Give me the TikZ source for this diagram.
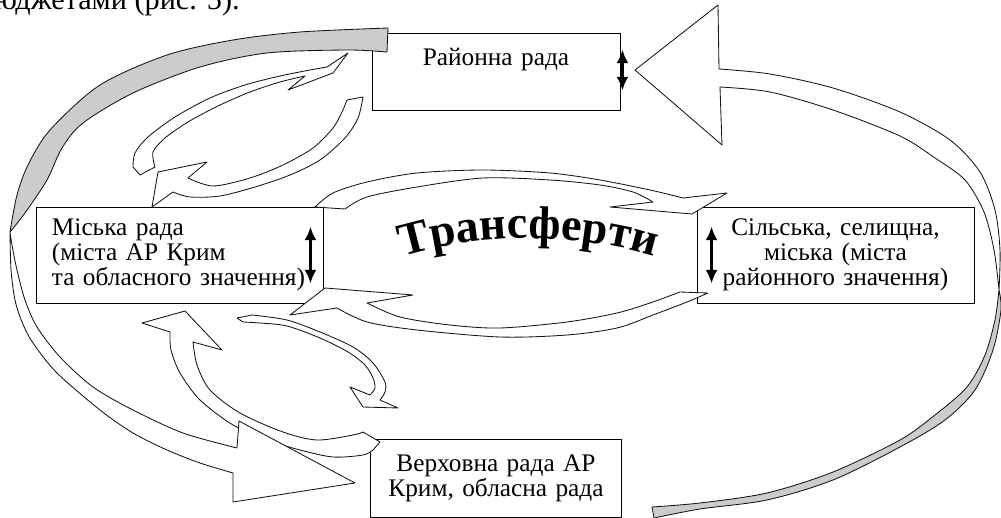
\documentclass[tikz,border=0pt]{standalone}
\usepackage{fontspec}
\setmainfont{Liberation Serif}
\usepackage{tikz}
\usetikzlibrary{
  arrows.meta,
  positioning,
  calc,
  decorations.text
}
\definecolor{RibbonGray}{RGB}{204,204,204}
\definecolor{RibbonLine}{RGB}{20,20,20}
\newcommand{\transfont}{\fontsize{33}{33}\selectfont\bfseries}
\tikzset{
  rada/.style={
    draw=black,
    fill=white,
    line width=0.6pt,
    inner xsep=1mm,
    inner ysep=0pt,
    font=\fontsize{18}{17.8}\selectfont
  },
  ribbon/.style={draw=RibbonLine,fill=white,line width=0.6pt,line join=round},
  ribbonback/.style={ribbon,fill=RibbonGray},
  updown/.style={{Latex[length=3.4mm,width=3mm]}-{Latex[length=3.4mm,width=3mm]},line width=1.8pt}
}

\begin{document}
\begin{tikzpicture}[x=0.025cm, y=-0.025cm]
  \useasboundingbox (0,0) rectangle (1001,518);

  \node[font=\fontsize{21.5}{24}\selectfont, anchor=base east, inner sep=0pt] (caption) at (240,10) {бюджетами (рис. 5).};

  \node[rada, text width=6.0cm, align=center, text height=0.825cm, text depth=1.1cm] (rayon) at (496,71.5) {Районна рада};
  \node[rada, minimum height=2.4cm, text width=6.375cm, inner xsep=4mm, align=left] (misto) at (179.5,255) {Міська рада\\(міста АР Крим\\та обласного значення)};
  \node[rada, minimum height=2.4cm, text width=6.725cm, align=center, right=9.325cm of misto] (silska) {Сільська, селищна,\\міська (міста\\районного значення)};
  \node[rada, minimum height=1.95cm, text width=6.075cm, align=center, below=8.2cm of rayon] (verkh) {Верховна рада АР\\Крим, обласна рада};

  \filldraw[ribbon] (142,323) -- (185,311) -- (222,350) -- (193,342)
    -- plot[smooth] coordinates {(193,342) (197,365) (210,390) (240,413) (283,432) (317,440) (353,435) (363,432)}
    -- (380,442) -- (373,450)
    -- plot[smooth] coordinates {(373,450) (363,455) (333,457) (300,450) (267,440) (233,425) (200,400) (180,373) (171,350) (170,332)}
    -- cycle;
  \filldraw[ribbon] (237,318) -- (252,315)
    -- plot[smooth] coordinates {(252,315) (287,320) (320,332) (353,347) (373,363) (385,382) (385,392) (380,400)}
    -- (398,408) -- (363,407) -- (350,387) -- (370,395)
    -- plot[smooth] coordinates {(370,395) (375,388) (373,378) (365,365) (348,352) (320,338) (287,326) (260,323) (243,322)}
    -- cycle;
  \filldraw[ribbon] (133,167)
    -- plot[smooth] coordinates {(133,167) (135,153) (148,137) (175,117) (210,98) (245,85) (280,76) (310,70) (327,67)}
    -- (348,53) -- (333,73) -- (288,90) -- (305,76)
    -- plot[smooth] coordinates {(305,76) (280,82) (250,92) (218,106) (188,122) (165,138) (153,152) (155,167)}
    -- (140,175) -- cycle;
  \filldraw[ribbon] (347,100) -- (363,97)
    -- plot[smooth] coordinates {(363,97) (358,118) (345,138) (320,160) (290,175) (255,187) (220,196) (190,197) (173,192)}
    -- (152,207) -- (158,172) -- (207,162) -- (188,178)
    -- plot[smooth] coordinates {(188,178) (213,186) (250,178) (283,165) (313,148) (333,128) (342,112) (347,100)}
    -- cycle;
  \filldraw[ribbon] (315,207)
    -- plot[smooth] coordinates {(315,207) (333,193) (367,182) (417,173) (483,170) (550,173) (600,180) (650,190) (683,198)}
    -- (727,193) -- (692,214) -- (610,207) -- (653,202)
    -- plot[smooth] coordinates {(653,202) (633,192) (600,185) (550,180) (483,178) (417,187) (367,197) (345,209)}
    -- cycle;
  \filldraw[ribbon] (680,292)
    -- plot[smooth] coordinates {(680,292) (650,303) (617,313) (567,322) (500,328) (450,325) (400,317) (367,303)}
    -- (413,295) -- (325,288) -- (290,315) -- (337,308)
    -- plot[smooth] coordinates {(337,308) (367,322) (417,330) (500,337) (567,335) (617,328) (653,315) (687,302) (708,293)}
    -- cycle;

  \filldraw[ribbonback] (388,28)
    -- plot[smooth] coordinates {(388,28) (300,32) (233,40) (167,55) (100,85) (50,130) (28,165) (17,195) (10,232)}
    -- plot[smooth] coordinates {(10,232) (25,213) (47,180) (62,148) (83,123) (133,93) (200,67) (267,53) (347,50) (387,52)}
    -- cycle;
  \filldraw[ribbon] (10,232)
    -- plot[smooth] coordinates {(10,232) (11,270) (15,300) (22,322) (33,343) (57,373) (100,410) (133,433) (167,450) (200,463) (233,473)}
    -- (233,502) -- (355,483) -- (239,421) -- (237,448)
    -- plot[smooth] coordinates {(237,448) (183,433) (133,410) (93,387) (60,357) (37,327) (25,300) (17,270) (12,245) (10,232)}
    -- cycle;
  \filldraw[ribbon] (999,290)
    -- plot[smooth] coordinates {(999,290) (994,250) (984,212) (965,180) (935,158) (900,136) (833,110) (770,92) (720,87)}
    -- (722,145) -- (635,70) -- (718,5) -- (719,69)
    -- plot[smooth] coordinates {(719,69) (770,74) (833,88) (900,112) (950,140) (980,172) (995,210) (1000,250) (999,290)}
    -- cycle;
  \filldraw[ribbonback] (999,290)
    -- plot[smooth] coordinates {(999,290) (995,320) (985,355) (967,387) (935,415) (900,440) (833,472) (767,493) (700,503) (652,507)}
    -- (654,518)
    -- plot[smooth] coordinates {(654,518) (700,509) (767,500) (833,480) (900,447) (945,420) (975,390) (993,350) (1001,310) (999,290)}
    -- cycle;

  \draw[updown] ($(rayon.north east)+(2,17)$) -- ($(rayon.south east)+(2,-20)$);
  \draw[updown] ($(misto.north east)+(-13,20)$) -- ($(misto.south east)+(-13,-20)$);
  \draw[updown] ($(silska.north west)+(15,20)$) -- ($(silska.south west)+(15,-20)$);

  \path[decorate, decoration={text along path, text={|\transfont|Трансферти}, text align=center}]
    (380,264) .. controls (470,230) and (590,230) .. (677,264);
\end{tikzpicture}
\end{document}
